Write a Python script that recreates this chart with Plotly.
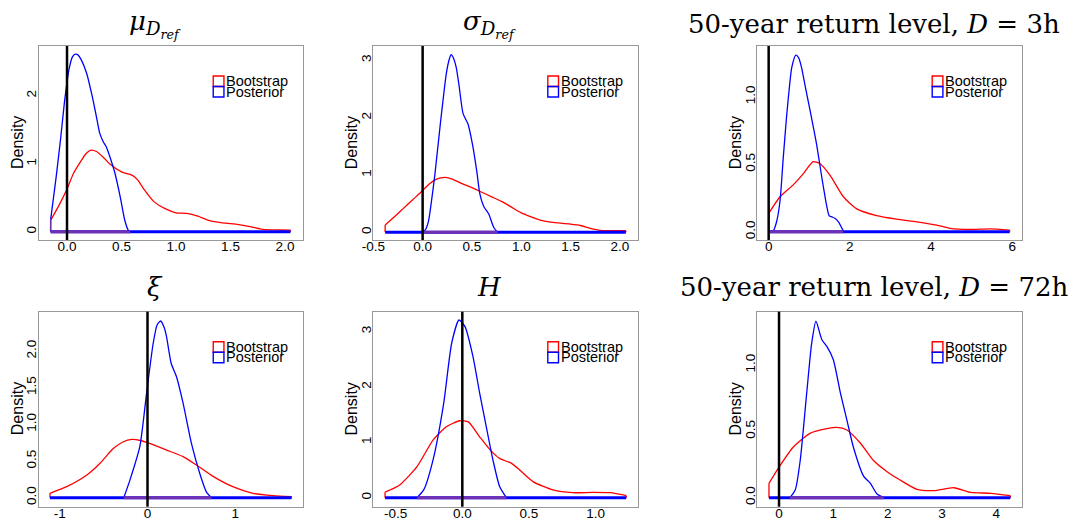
import plotly.graph_objects as go

W, H = 1078, 521

# ---------------- data ----------------
titles = [
    "<i>μ</i><sub><i>D</i><sub><i>ref</i></sub></sub>",
    "<i>σ</i><sub><i>D</i><sub><i>ref</i></sub></sub>",
    "50-year return level, <i>D</i> = 3h",
    "<i>ξ</i>",
    "<i>H</i>",
    "50-year return level, <i>D</i> = 72h",
]
series_names = ["Bootstrap", "Posterior"]

mu_boot_x = [-0.15, -0.07, 0.0, 0.06, 0.12, 0.17, 0.22, 0.27, 0.33, 0.39, 0.5, 0.6, 0.65, 0.7, 0.8, 0.9, 1.0, 1.1, 1.2, 1.3, 1.4, 1.5, 1.6, 1.7, 1.8, 1.95, 2.05]
mu_boot_y = [0.17, 0.4, 0.63, 0.86, 1.02, 1.14, 1.2, 1.18, 1.1, 1.0, 0.88, 0.83, 0.76, 0.64, 0.44, 0.34, 0.28, 0.27, 0.23, 0.17, 0.14, 0.12, 0.1, 0.07, 0.035, 0.027, 0.025]
mu_post_x = [-0.15, -0.1, -0.06, -0.02, 0.02, 0.05, 0.075, 0.1, 0.13, 0.18, 0.23, 0.27, 0.3, 0.33, 0.36, 0.4, 0.44, 0.49, 0.53, 0.56, 0.58]
mu_post_y = [0.18, 0.8, 1.35, 1.95, 2.4, 2.57, 2.61, 2.6, 2.53, 2.33, 2.0, 1.69, 1.45, 1.33, 1.25, 1.07, 0.86, 0.5, 0.17, 0.03, 0.0]

sig_boot_x = [-0.38, -0.3, -0.2, -0.1, 0.0, 0.07, 0.14, 0.23, 0.3, 0.4, 0.5, 0.6, 0.7, 0.8, 0.9, 1.0, 1.1, 1.2, 1.3, 1.4, 1.5, 1.6, 1.7, 1.8, 1.9, 2.06]
sig_boot_y = [0.13, 0.25, 0.41, 0.57, 0.73, 0.85, 0.93, 0.96, 0.93, 0.85, 0.78, 0.7, 0.62, 0.54, 0.44, 0.34, 0.27, 0.21, 0.18, 0.16, 0.145, 0.12, 0.07, 0.035, 0.03, 0.03]
sig_post_x = [0.0, 0.03, 0.06, 0.09, 0.125, 0.18, 0.24, 0.27, 0.29, 0.31, 0.34, 0.37, 0.41, 0.46, 0.51, 0.55, 0.58, 0.62, 0.67, 0.72, 0.76]
sig_post_y = [0.0, 0.05, 0.2, 0.55, 1.02, 1.9, 2.77, 3.02, 3.1, 3.05, 2.88, 2.55, 2.07, 1.89, 1.49, 1.05, 0.67, 0.45, 0.32, 0.09, 0.0]

rl3_boot_x = [0.0, 0.28, 0.61, 0.85, 1.0, 1.1, 1.26, 1.51, 1.84, 2.17, 2.66, 3.15, 3.65, 4.14, 4.47, 4.96, 5.45, 5.94]
rl3_boot_y = [0.136, 0.26, 0.35, 0.43, 0.49, 0.52, 0.506, 0.42, 0.26, 0.17, 0.12, 0.094, 0.074, 0.05, 0.025, 0.017, 0.022, 0.012]
rl3_post_x = [0.0, 0.11, 0.2, 0.28, 0.36, 0.44, 0.52, 0.57, 0.67, 0.74, 0.81, 0.9, 1.02, 1.18, 1.35, 1.49, 1.56, 1.63, 1.72, 1.84]
rl3_post_y = [0.0, 0.005, 0.08, 0.23, 0.55, 0.85, 1.1, 1.22, 1.31, 1.29, 1.22, 1.08, 0.9, 0.65, 0.33, 0.12, 0.11, 0.1, 0.074, 0.005]

xi_boot_x = [-1.11, -0.92, -0.69, -0.54, -0.39, -0.28, -0.18, -0.08, 0.0, 0.216, 0.405, 0.557, 0.746, 0.97, 1.2, 1.43, 1.64]
xi_boot_y = [0.06, 0.15, 0.31, 0.47, 0.67, 0.76, 0.795, 0.78, 0.75, 0.65, 0.56, 0.445, 0.29, 0.15, 0.06, 0.027, 0.014]
xi_post_x = [-0.27, -0.2, -0.087, -0.011, 0.064, 0.11, 0.15, 0.19, 0.216, 0.27, 0.33, 0.405, 0.5, 0.595, 0.67, 0.727]
xi_post_y = [0.0, 0.24, 0.7, 1.42, 2.1, 2.36, 2.41, 2.32, 2.2, 1.83, 1.65, 1.29, 0.74, 0.33, 0.08, 0.0]

h_boot_x = [-0.58, -0.47, -0.34, -0.22, -0.12, -0.02, 0.045, 0.13, 0.21, 0.28, 0.37, 0.43, 0.53, 0.68, 0.83, 0.98, 1.11, 1.23]
h_boot_y = [0.1, 0.23, 0.56, 1.04, 1.28, 1.39, 1.37, 1.1, 0.86, 0.71, 0.62, 0.5, 0.29, 0.14, 0.09, 0.096, 0.09, 0.036]
h_post_x = [-0.34, -0.29, -0.22, -0.14, -0.08, -0.025, 0.02, 0.08, 0.13, 0.18, 0.23, 0.28, 0.33]
h_post_y = [0.0, 0.14, 0.68, 1.7, 2.79, 3.21, 3.09, 2.55, 1.89, 1.28, 0.68, 0.2, 0.0]

rl72_boot_x = [-0.185, 0.0, 0.26, 0.57, 0.88, 1.06, 1.25, 1.5, 1.74, 1.99, 2.23, 2.54, 2.85, 3.22, 3.53, 3.9, 4.26]
rl72_boot_y = [0.108, 0.23, 0.38, 0.485, 0.52, 0.53, 0.51, 0.41, 0.28, 0.196, 0.133, 0.063, 0.053, 0.075, 0.04, 0.033, 0.015]
rl72_post_x = [0.2, 0.3, 0.39, 0.51, 0.6, 0.68, 0.79, 0.88, 1.0, 1.13, 1.25, 1.37, 1.56, 1.68, 1.8, 1.93]
rl72_post_y = [0.0, 0.06, 0.28, 0.79, 1.16, 1.33, 1.19, 1.14, 1.04, 0.79, 0.585, 0.38, 0.16, 0.11, 0.03, 0.0]

ref_value = 0.0  # vertical reference line

x_tickvals = [[0, 0.5, 1, 1.5, 2], [-0.5, 0, 0.5, 1, 1.5, 2], [0, 2, 4, 6],
              [-1, 0, 1], [-0.5, 0, 0.5, 1], [0, 1, 2, 3, 4]]
x_ticktext = [["0.0", "0.5", "1.0", "1.5", "2.0"], ["-0.5", "0.0", "0.5", "1.0", "1.5", "2.0"],
              ["0", "2", "4", "6"], ["-1", "0", "1"], ["-0.5", "0.0", "0.5", "1.0"],
              ["0", "1", "2", "3", "4"]]
y_tickvals = [[0, 1, 2], [0, 1, 2, 3], [0, 0.5, 1], [0, 0.5, 1, 1.5, 2], [0, 1, 2, 3], [0, 0.5, 1]]
y_ticktext = [["0", "1", "2"], ["0", "1", "2", "3"], ["0.0", "0.5", "1.0"],
              ["0.0", "0.5", "1.0", "1.5", "2.0"], ["0", "1", "2", "3"], ["0.0", "0.5", "1.0"]]

boot = [(mu_boot_x, mu_boot_y), (sig_boot_x, sig_boot_y), (rl3_boot_x, rl3_boot_y),
        (xi_boot_x, xi_boot_y), (h_boot_x, h_boot_y), (rl72_boot_x, rl72_boot_y)]
post = [(mu_post_x, mu_post_y), (sig_post_x, sig_post_y), (rl3_post_x, rl3_post_y),
        (xi_post_x, xi_post_y), (h_post_x, h_post_y), (rl72_post_x, rl72_post_y)]

# ---------------- layout geometry ----------------
x_ranges = [[-0.257, 2.165], [-0.5, 2.18], [-0.28, 6.25], [-1.235, 1.77], [-0.668, 1.316], [-0.40, 4.48]]
y_ranges = [[-0.12, 2.73], [-0.133, 3.25], [-0.061, 1.378], [-0.123, 2.537], [-0.163, 3.36], [-0.068, 1.402]]
col_px = [(39, 303), (373.3, 637.7), (757.3, 1022.3)]
row_px = [(46, 240), (311.7, 506.7)]

RED, BLUE, PURPLE = "#FF0000", "#0000FF", "#7030B0"
SANS = "Liberation Sans, Arial, sans-serif"
SERIF = "DejaVu Serif, serif"

fig = go.Figure()
layout = dict(width=W, height=H, margin=dict(l=0, r=0, t=0, b=0, autoexpand=False),
              paper_bgcolor="white", plot_bgcolor="white", showlegend=False,
              shapes=[], annotations=[])

for i in range(6):
    r, c = divmod(i, 3)
    xa = "x" if i == 0 else f"x{i+1}"
    ya = "y" if i == 0 else f"y{i+1}"
    xd = [col_px[c][0] / W, col_px[c][1] / W]
    yd = [1 - row_px[r][1] / H, 1 - row_px[r][0] / H]
    axis_common = dict(showgrid=False, zeroline=False, showline=True, mirror=True,
                       linecolor="#999999", linewidth=1.3, ticks="", automargin=False,
                       tickfont=dict(family=SANS, size=13.5, color="black"))
    layout["xaxis" if i == 0 else f"xaxis{i+1}"] = dict(
        domain=xd, range=x_ranges[i], anchor=ya, tickvals=x_tickvals[i],
        ticktext=x_ticktext[i], ticklabelstandoff=-6, **axis_common)
    layout["yaxis" if i == 0 else f"yaxis{i+1}"] = dict(
        domain=yd, range=y_ranges[i], anchor=xa, tickvals=y_tickvals[i],
        ticktext=y_ticktext[i], tickangle=-90, ticklabelstandoff=-4, **axis_common)

    bx, by = boot[i]
    px_, py_ = post[i]
    lo = min(bx[0], px_[0])
    hi = max(bx[-1], px_[-1])

    # Bootstrap density outline
    fig.add_trace(go.Scatter(x=bx, y=by, mode="lines", xaxis=xa, yaxis=ya,
                             line=dict(color=RED, width=1.3, shape="spline", smoothing=0.6),
                             hoverinfo="skip"))
    fig.add_trace(go.Scatter(x=[bx[0], bx[0]], y=[0, by[0]], mode="lines", xaxis=xa, yaxis=ya,
                             line=dict(color=RED, width=1.3), hoverinfo="skip"))
    fig.add_trace(go.Scatter(x=[bx[-1], bx[-1]], y=[0, by[-1]], mode="lines", xaxis=xa, yaxis=ya,
                             line=dict(color=RED, width=1.3), hoverinfo="skip"))
    # Posterior density outline
    fig.add_trace(go.Scatter(x=px_, y=py_, mode="lines", xaxis=xa, yaxis=ya,
                             line=dict(color=BLUE, width=1.3, shape="spline", smoothing=0.6),
                             hoverinfo="skip"))
    if py_[0] > 0:
        fig.add_trace(go.Scatter(x=[px_[0], px_[0]], y=[0, py_[0]], mode="lines", xaxis=xa, yaxis=ya,
                                 line=dict(color=PURPLE, width=1.5), hoverinfo="skip"))
    # baseline
    fig.add_trace(go.Scatter(x=[lo, hi], y=[0, 0], mode="lines", xaxis=xa, yaxis=ya,
                             line=dict(color=BLUE, width=3), hoverinfo="skip"))
    fig.add_trace(go.Scatter(x=[px_[0], px_[-1]], y=[0, 0], mode="lines", xaxis=xa, yaxis=ya,
                             line=dict(color=PURPLE, width=3), hoverinfo="skip"))

    # vertical reference line
    layout["shapes"].append(dict(type="line", xref=xa, yref=f"{ya} domain", x0=ref_value, x1=ref_value,
                                 y0=0, y1=1, line=dict(color="black", width=2.5)))

    # legend boxes + labels
    bw = (col_px[c][1] - col_px[c][0])
    bh = (row_px[r][1] - row_px[r][0])
    sx0 = 0.66
    sx1 = sx0 + 10.7 / bw
    for k, (col, name) in enumerate(zip([RED, BLUE], series_names)):
        top = 30 + k * 10.5
        layout["shapes"].append(dict(type="rect", xref=f"{xa} domain", yref=f"{ya} domain",
                                     x0=sx0, x1=sx1, y0=1 - (top + 10.5) / bh, y1=1 - top / bh,
                                     line=dict(color=col, width=1.4), fillcolor="rgba(0,0,0,0)"))
        layout["annotations"].append(dict(text=name, xref=f"{xa} domain", yref=f"{ya} domain",
                                          x=sx1, y=1 - (top + 5.25) / bh, xanchor="left", yanchor="middle",
                                          xshift=0, showarrow=False,
                                          font=dict(family=SANS, size=14.5, color="black")))
    # Density y title
    layout["annotations"].append(dict(text="Density", xref=f"{xa} domain", yref=f"{ya} domain",
                                      x=0, y=0.5, xanchor="center", yanchor="middle", xshift=-22,
                                      textangle=-90, showarrow=False,
                                      font=dict(family=SANS, size=16, color="black")))
    # panel title
    cx = (col_px[c][0] + col_px[c][1]) / 2 - 16
    ty = [24, 287][r]
    layout["annotations"].append(dict(text=titles[i], xref="paper", yref="paper",
                                      x=cx / W, y=1 - ty / H, xanchor="center", yanchor="middle",
                                      showarrow=False,
                                      font=dict(family=SERIF, size=26, color="black")))

fig.update_layout(**layout)
fig.write_html("out.html")
